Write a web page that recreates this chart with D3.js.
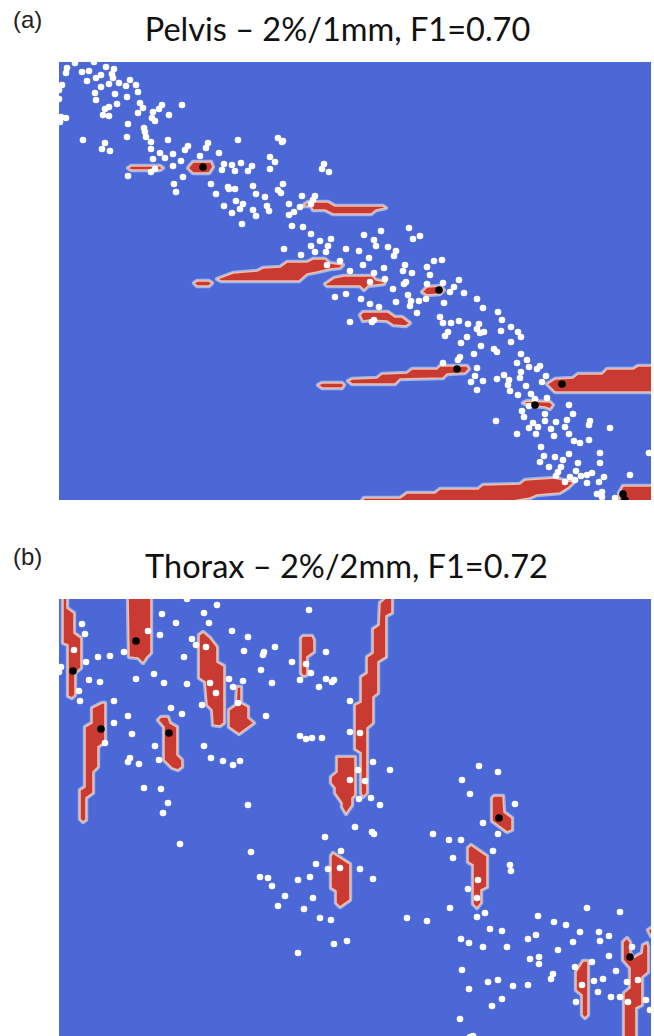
<!DOCTYPE html>
<html><head><meta charset="utf-8">
<script src="https://cdn.jsdelivr.net/npm/d3@7"></script>
<style>html,body{margin:0;padding:0;background:#fff}svg{display:block}</style>
</head><body><svg id="c" width="654" height="1036"></svg>
<script>
const panelTitles=["Pelvis – 2%/1mm, F1=0.70","Thorax – 2%/2mm, F1=0.72"];
const panelLabels=["(a)","(b)"];
const pelvisWhite=[[16,1],[35,0],[8,6],[7,11],[23,10],[30,9],[47,5],[55,7],[42,13],[37,16],[53,12],[54,16],[28,19],[50,22],[60,21],[71,18],[67,24],[77,23],[42,25],[3,23],[0,28],[36,31],[56,32],[79,30],[0,37],[37,38],[68,35],[58,42],[81,41],[50,45],[46,47],[84,46],[103,43],[100,47],[94,50],[123,43],[44,53],[50,54],[79,51],[110,53],[93,56],[96,59],[2,55],[7,56],[1,60],[69,62],[85,66],[86,70],[87,75],[68,75],[24,78],[109,78],[92,80],[46,81],[43,87],[51,89],[92,87],[101,91],[129,84],[126,88],[149,81],[147,86],[179,78],[219,76],[224,79],[223,80],[114,92],[106,96],[94,97],[141,94],[160,91],[122,99],[114,104],[211,95],[216,100],[165,102],[163,108],[173,103],[176,109],[182,101],[193,104],[189,109],[211,107],[265,102],[263,107],[270,110],[96,107],[92,110],[69,114],[124,115],[115,122],[117,130],[152,122],[169,125],[170,127],[176,127],[194,124],[224,122],[219,128],[222,131],[157,132],[197,132],[206,135],[243,134],[256,134],[254,138],[252,142],[230,142],[177,139],[184,142],[181,147],[165,144],[173,151],[194,148],[197,154],[208,144],[210,149],[241,145],[235,150],[230,153],[183,162],[233,164],[244,165],[252,172],[261,179],[272,177],[252,184],[269,184],[267,190],[256,190],[225,187],[242,193],[281,199],[268,203],
[322,169],[350,166],[361,174],[354,177],[305,173],[315,178],[317,184],[329,185],[337,189],[335,194],[287,187],[300,189],[310,196],[375,199],[383,198],[368,205],[346,203],[344,209],[353,211],[304,203],[325,206],[291,209],[315,211],[371,213],[326,217],[400,218],[311,220],[347,220],[345,222],[368,222],[384,221],
[334,227],[276,235],[287,232],[302,237],[311,242],[320,245],[337,240],[349,233],[352,239],[351,244],[360,239],[358,251],[291,260],[315,258],[313,260],
[395,225],[391,230],[405,231],[367,237],[385,241],[418,237],[424,246],[439,250],[443,258],[381,255],[384,261],[392,261],[400,259],[409,262],[420,262],[418,267],[421,271],[425,270],[442,269],[452,265],[459,270],[462,275],[389,270],[386,274],[408,275],[402,281],[452,280],[422,284],[415,292],[435,287],[438,290],[462,292],[468,298],[458,301],[470,305],[481,304],[478,307],[401,295],[399,298],[384,301],[418,306],[462,310],[487,314],[445,313],[416,314],[438,317],[450,318],[461,316],[412,320],[424,319],[449,323],[483,320],[467,324],[418,328],[451,329],[459,333],[472,332],[488,336],[476,337],[470,344],[510,343],[514,352],[463,349],[465,355],[486,352],[437,359],[486,359],[497,360],[508,358],[531,359],[530,363],[551,366],[474,361],[479,365],[470,366],[492,367],[506,365],[458,372],[477,372],[495,374],[510,372],[515,379],[521,381],[530,378],[482,385],[510,392],[541,391],[590,391],[485,394],[496,395],[504,398],[481,400],[541,401],[519,401],[502,405],[490,405],[517,409],[571,413],[533,411],[528,413],[522,414],[499,410],[497,414],[511,415],[545,415],[516,418],[506,420],[528,421],[540,420],[538,432],[543,430],[543,435],[556,436]];
const pelvisBlack=[[144,105],[380,228],[398,307],[503,322],[476,343],[564,432],[566,438]];
const pelvisRegions=[
[[69,106],[72,104],[101,104],[104,106],[101,108],[72,108]],
[[129,106],[134,100],[152,100],[154,105],[150,111],[134,111]],
[[243,144],[249,140],[269,140],[276,144],[324,144],[327,146],[317,148],[312,152],[274,152],[266,148],[254,148],[252,144]],
[[158,217],[174,211],[198,209],[204,206],[221,205],[228,200],[248,200],[254,197],[266,197],[271,201],[284,203],[281,206],[271,207],[258,210],[248,212],[240,219],[162,219]],
[[135,221],[138,219],[150,219],[153,221],[150,224],[138,224]],
[[266,222],[275,216],[285,214],[313,214],[317,218],[326,220],[325,222],[309,224],[305,228],[301,224],[268,224]],
[[301,253],[304,250],[329,250],[336,255],[343,255],[351,261],[347,264],[334,263],[328,259],[311,258],[304,259]],
[[259,323],[263,321],[283,321],[285,323],[283,326],[263,326]],
[[289,319],[293,317],[318,316],[323,312],[348,311],[353,307],[378,307],[381,304],[408,304],[410,307],[406,311],[388,312],[384,316],[341,317],[336,322],[293,322]],
[[363,230],[368,225],[381,224],[385,228],[381,232],[368,233]],
[[488,322],[496,317],[514,316],[519,312],[543,312],[548,307],[574,307],[579,304],[594,304],[594,330],[496,330]],
[[464,341],[468,339],[491,340],[494,343],[491,347],[486,345],[476,344],[469,343]],
[[302,440],[305,436],[341,436],[348,431],[376,431],[381,427],[419,427],[424,423],[461,422],[466,418],[496,416],[504,418],[515,420],[509,426],[501,431],[478,433],[471,436],[448,440]],
[[560,431],[564,424],[594,424],[594,440],[561,440]]
];
const thoraxWhite=[[128,0],[158,6],[103,15],[145,14],[117,24],[150,24],[23,25],[26,35],[89,32],[101,36],[173,32],[189,38],[133,40],[137,46],[147,48],[15,51],[185,52],[205,53],[204,56],[65,53],[51,57],[39,58],[125,58],[27,63],[2,68],[0,73],[202,71],[95,75],[77,80],[30,81],[41,83],[105,84],[128,85],[151,84],[170,80],[184,82],[174,88],[20,92],[157,94],[21,102],[55,102],[179,104],[143,106],[112,109],[123,115],[69,117],[207,117],[55,124],[73,135],[46,144],[96,147],[145,147],[71,159],[69,163],[80,165],[100,161],[152,159],[164,162],[174,166],[181,162],[85,189],[102,190],[109,204],[104,214],[189,206],
[250,11],[216,48],[267,53],[233,63],[247,65],[252,74],[241,81],[213,84],[267,80],[275,81],[273,83],[260,88],[291,102],[241,137],[247,140],[253,139],[263,139],[291,133],[301,134],[314,163],[331,171],[299,171],[291,181],[306,182],[300,200],[312,199],[321,206],
[121,245],[192,253],[266,238],[296,228],[313,233],[315,235],[282,252],[257,265],[269,270],[281,269],[301,270],[251,278],[239,281],[201,278],[209,279],[213,287],[226,297],[219,307],[254,299],[245,310],[261,319],[272,321],[275,345],[288,342],[239,354],[314,280],
[420,167],[439,173],[403,181],[411,195],[456,205],[424,224],[439,235],[374,235],[390,241],[402,241],[434,252],[394,259],[451,266],[452,272],[419,281],[409,290],[418,299],[391,309],[528,309],[561,313],[348,319],[368,322],[418,318],[426,314],[479,317],[495,323],[507,326],[431,330],[443,332],[521,333],[540,333],[550,337],[402,340],[410,344],[477,336],[469,340],[514,343],[541,342],[424,348],[448,348],[499,351],[573,348],[550,357],[471,360],[480,358],[480,365],[533,363],[516,368],[403,371],[557,372],[494,375],[492,380],[429,383],[439,381],[535,382],[544,380],[568,383],[579,381],[523,386],[410,390],[454,387],[469,386],[539,393],[552,398],[561,398],[569,403],[587,401],[443,400],[517,403],[433,407],[591,411],[401,420],[414,437],[411,438]];
const thoraxBlack=[[14,72],[77,42],[42,130],[110,134],[440,219],[571,358]];
const thoraxRegions=[
[[4,-3],[8,-3],[8,9],[15,14],[15,34],[22,39],[22,69],[16,74],[16,96],[13,99],[9,97],[9,46],[4,44]],
[[69,-3],[92,-3],[92,54],[88,58],[84,64],[79,59],[70,58]],
[[33,109],[43,104],[46,104],[46,143],[39,148],[39,168],[34,173],[34,194],[27,199],[27,221],[24,223],[21,220],[21,191],[26,188],[26,128],[33,124]],
[[99,121],[102,118],[109,118],[111,124],[118,128],[118,156],[123,161],[123,168],[119,171],[113,169],[105,161],[105,128]],
[[140,36],[144,33],[151,39],[158,48],[158,63],[165,67],[165,124],[161,127],[154,126],[153,111],[148,106],[146,83],[140,79]],
[[178,88],[182,88],[182,104],[189,108],[189,119],[195,124],[180,135],[170,128],[170,111],[177,106]],
[[242,39],[244,37],[253,37],[255,41],[255,53],[248,58],[248,76],[244,77],[242,74]],
[[321,4],[329,-3],[333,-3],[333,14],[327,17],[327,58],[319,63],[319,94],[314,98],[314,124],[308,129],[308,194],[304,198],[302,194],[302,154],[296,150],[296,106],[302,103],[302,78],[308,74],[308,58],[314,54],[314,30],[320,26]],
[[278,158],[296,158],[296,196],[293,199],[293,206],[287,215],[283,208],[283,204],[276,194],[276,189],[272,184],[272,178],[278,173]],
[[272,257],[274,254],[291,265],[291,301],[281,308],[277,304],[277,292],[272,289]],
[[433,199],[435,197],[444,197],[445,213],[453,219],[453,231],[448,233],[433,222]],
[[409,249],[412,246],[428,257],[428,288],[422,291],[422,304],[418,309],[414,305],[414,266],[409,263]],
[[517,373],[524,362],[529,362],[529,416],[526,419],[523,416],[523,396],[517,391]],
[[564,343],[568,339],[571,343],[571,353],[574,359],[583,354],[584,346],[588,344],[589,348],[589,373],[583,378],[583,406],[577,409],[577,440],[565,440],[565,394],[571,389],[571,369],[564,361]],
[[589,331],[592,329],[595,329],[595,337],[592,337]]
];
const svg=d3.select("#c");
const blur=svg.append("filter").attr("id","soft").attr("x","0").attr("y","0").attr("width","1").attr("height","1");
blur.append("feGaussianBlur").attr("stdDeviation",0.55);
const panels=[
 {title:panelTitles[0],label:panelLabels[0],top:62,h:438,white:pelvisWhite,black:pelvisBlack,regions:pelvisRegions,tx:337.5,ty:41,ly:28},
 {title:panelTitles[1],label:panelLabels[1],top:599,h:437,white:thoraxWhite,black:thoraxBlack,regions:thoraxRegions,tx:346.5,ty:578,ly:565}
];
const x=d3.scaleLinear().domain([0,592]).range([59,651]);
panels.forEach((p,i)=>{
 const y=d3.scaleLinear().domain([0,p.h]).range([p.top,p.top+p.h]);
 const id="clip"+i;
 svg.append("clipPath").attr("id",id).append("rect").attr("x",x(0)).attr("y",y(0)).attr("width",x(592)-x(0)).attr("height",y(p.h)-y(0));
 const g=svg.append("g").attr("clip-path",`url(#${id})`);
 g.append("rect").attr("x",x(0)).attr("y",y(0)).attr("width",x(592)-x(0)).attr("height",y(p.h)-y(0)).attr("fill","#4c68d7");
 const inner=g.append("g").attr("filter","url(#soft)");
 const line=d3.line().x(d=>x(d[0])).y(d=>y(d[1])).curve(d3.curveLinearClosed);
 inner.selectAll("path.halo").data(p.regions).join("path").attr("class","halo").attr("d",line)
  .attr("fill","none").attr("stroke","#9db6ee").attr("stroke-width",4.4).attr("stroke-linejoin","round");
 inner.selectAll("path.region").data(p.regions).join("path").attr("class","region").attr("d",line)
  .attr("fill","#c93a31").attr("stroke","#f3bda6").attr("stroke-width",1.6).attr("stroke-linejoin","round");
 inner.selectAll("circle.w").data(p.white).join("circle").attr("class","w").attr("cx",d=>x(d[0])).attr("cy",d=>y(d[1])).attr("r",3.3).attr("fill","#fff");
 inner.selectAll("circle.b").data(p.black).join("circle").attr("class","b").attr("cx",d=>x(d[0])).attr("cy",d=>y(d[1])).attr("r",3.8).attr("fill","#000");
 svg.append("text").attr("x",p.tx).attr("y",p.ty).attr("text-anchor","middle").attr("font-family","Lato, 'Open Sans', sans-serif").attr("font-size",32.5).attr("fill","#111").text(p.title);
 svg.append("text").attr("x",13).attr("y",p.ly).attr("font-family","'Liberation Sans', Arial, sans-serif").attr("font-size",24).attr("fill","#222").text(p.label);
});
</script></body></html>
